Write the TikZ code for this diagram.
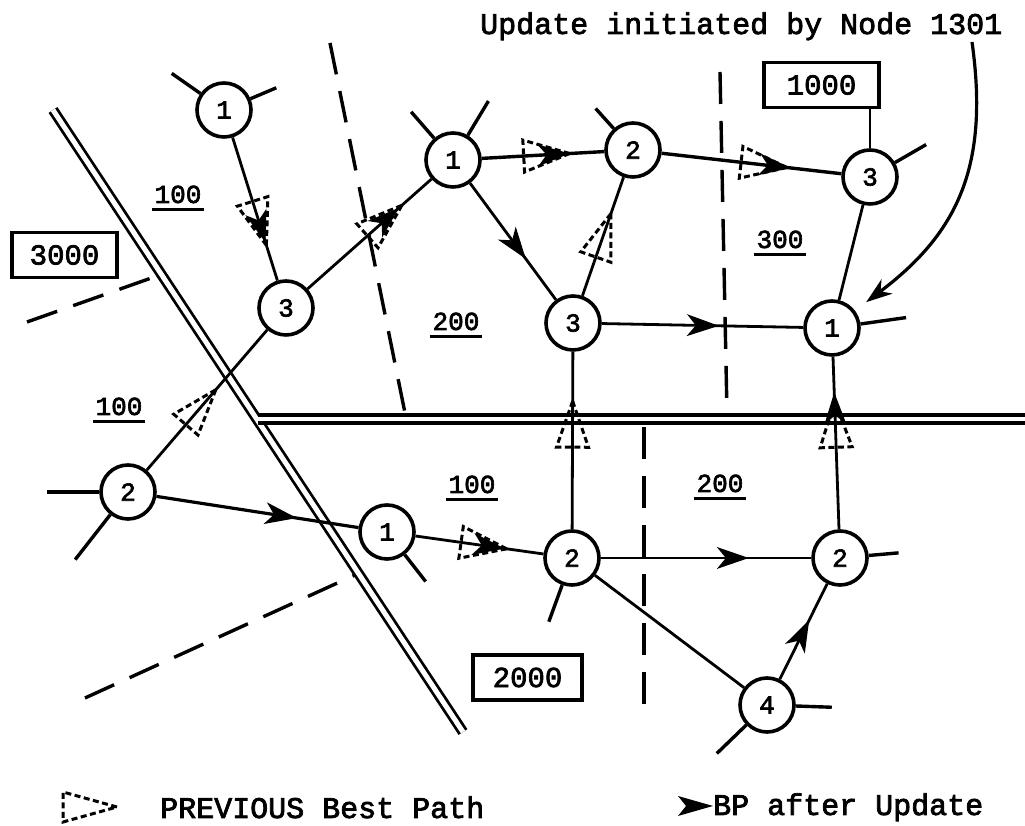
\documentclass[tikz,border=0pt]{standalone}
\usepackage{fontspec}
\newfontfamily\tw[FakeBold=2.5]{Liberation Mono}
\usetikzlibrary{decorations.markings,arrows.meta}
\newcommand\ulab[1]{\setbox0\hbox{#1}\leavevmode\rlap{\kern-3pt\rule[-8pt]{\dimexpr\wd0+6pt\relax}{2.6pt}}\box0}
\begin{document}
\begin{tikzpicture}[x=1pt,y=1pt,
 nd/.style={circle,draw,line width=3.6pt,minimum size=54pt,inner sep=0pt,font=\tw\fontsize{26}{26}\selectfont},
 conn/.style={line width=2.8pt},
 stub/.style={line width=3.4pt},
 bnd/.style={line width=3.4pt,dash pattern=on 32pt off 17pt},
 dbl/.style={double,line width=2.8pt,double distance=5pt},
 lbl/.style={font=\tw\fontsize{26}{26}\selectfont,inner sep=0pt,anchor=base},
 cbox/.style={draw,line width=3.6pt,minimum height=45pt,inner sep=0pt,font=\tw\fontsize{29}{29}\selectfont},
 txt/.style={font=\tw\fontsize{30}{30}\selectfont,inner sep=0pt,anchor=base west},
 prevtri/.style={draw,line width=3pt,dash pattern=on 6pt off 3.5pt},
 prevbp/.style={postaction={decorate,decoration={markings,mark=at position #1 with {\draw[prevtri] (0pt,0pt) -- (-46pt,16pt) -- (-46pt,-16pt) -- cycle;}}}},
 newbp/.style={postaction={decorate,decoration={markings,mark=at position #1 with {\fill (0pt,0pt) -- (-32pt,11pt) -- (-23pt,0pt) -- (-32pt,-11pt) -- cycle;}}}},
]
\useasboundingbox (0,0) rectangle (1025,826);

% dashed area boundaries
\draw[bnd] (27,504) -- (157,550);
\draw[bnd] (85,128) -- (355,251);
\draw[bnd] (330,783) -- (405,413);
\draw[bnd] (720,754) -- (727,413);
\draw[bnd] (644,399) -- (644,113);

% double boundaries
\draw[dbl] (53,716) -- (463,94);
\draw[line width=3.8pt,double,double distance=3.5pt] (258,407) -- (1025,407);

% nodes
\node[nd] (A1) at (224,716) {1};
\node[nd] (A3) at (286,518) {3};
\node[nd] (B1) at (453,666) {1};
\node[nd] (B2) at (633,676) {2};
\node[nd] (C3) at (870,649) {3};
\node[nd] (D3) at (573,503) {3};
\node[nd] (D1) at (832,498) {1};
\node[nd] (E2) at (128,334) {2};
\node[nd] (E1) at (387,294) {1};
\node[nd] (F2) at (572,268) {2};
\node[nd] (G2) at (840,268) {2};
\node[nd] (H4) at (767,121) {4};

% boxes
\node[cbox,minimum width=105pt] (b3000) at (64.5,571) {3000};
\node[cbox,minimum width=115pt] (b1000) at (821.5,741) {1000};
\node[cbox,minimum width=109pt] (b2000) at (527.5,148.5) {2000};

% labels
\node[lbl] (l1) at (178,623) {\ulab{100}};
\node[lbl] (l2) at (456,496) {\ulab{200}};
\node[lbl] (l3) at (780,578) {\ulab{300}};
\node[lbl] (l4) at (119,411) {\ulab{100}};
\node[lbl] (l5) at (472,333) {\ulab{100}};
\node[lbl] (l6) at (720,334) {\ulab{200}};

% edges
\draw[conn,prevbp=113pt,newbp=110pt] (A1) -- (A3);
\draw[conn,prevbp=126pt,newbp=122pt] (A3) -- (B1);
\draw[conn,prevbp=106pt] (E2) -- (A3);
\draw[conn,line width=3.4pt,prevbp=88pt,newbp=88pt] (B1) -- (B2);
\draw[conn,line width=3.4pt,prevbp=126pt,newbp=130pt] (B2) -- (C3);
\draw[conn,newbp=94pt] (B1) -- (D3);
\draw[conn,prevbp=87pt] (D3) -- (B2);
\draw[conn,newbp=117pt] (D3) -- (D1);
\draw[conn] (C3) -- (D1);
\draw[conn,prevbp=128pt] (F2) -- (D3);
\draw[conn,prevbp=128pt,newbp=137pt] (G2) -- (D1);
\draw[conn,line width=3.2pt,newbp=142pt] (E2) -- (E1);
\draw[conn,prevbp=92pt,newbp=90pt] (E1) -- (F2);
\draw[conn,newbp=148pt] (F2) -- (G2);
\draw[conn] (F2) -- (H4);
\draw[conn,newbp=66pt] (H4) -- (G2);
\draw[conn] (C3) -- (C3 |- b1000.south);

% stubs
\draw[stub] (A1.145) -- ++(145:35);
\draw[stub] (A1.23) -- ++(23:28);
\draw[stub] (B1.131) -- ++(131:35);
\draw[stub] (B1.59) -- ++(59:40);
\draw[stub] (B2.132) -- ++(132:27);
\draw[stub] (C3.30) -- ++(30:36);
\draw[stub] (D1.8) -- ++(8:46);
\draw[stub] (E2.180) -- ++(180:52);
\draw[stub] (E2.232) -- ++(232:57);
\draw[stub] (E1.-52) -- ++(-52:34);
\draw[stub] (F2.250) -- ++(250:39);
\draw[stub] (G2.5) -- ++(5:30);
\draw[stub] (H4.-2) -- ++(-2:36);
\draw[stub] (H4.224) -- ++(224:41);

% title and curved pointer
\node[txt] (title) at (480,792) {Update initiated by Node 1301};
\coordinate (cstart) at (972,784);
\draw[line width=3.2pt,-{Stealth[length=26pt,width=18pt,inset=8pt]},shorten >=14pt]
  (cstart) .. controls (990,656) and (955,591) .. (D1);

% legend
\draw[prevtri] (117,19) -- (63,34) -- (63,4) -- cycle;
\node[txt] (leg1) at (160,8) {PREVIOUS Best Path};
\fill (713,20) -- (678,30) -- (686,20) -- (678,10) -- cycle;
\node[txt] (leg2) at (713,11) {BP after Update};
\end{tikzpicture}
\end{document}
